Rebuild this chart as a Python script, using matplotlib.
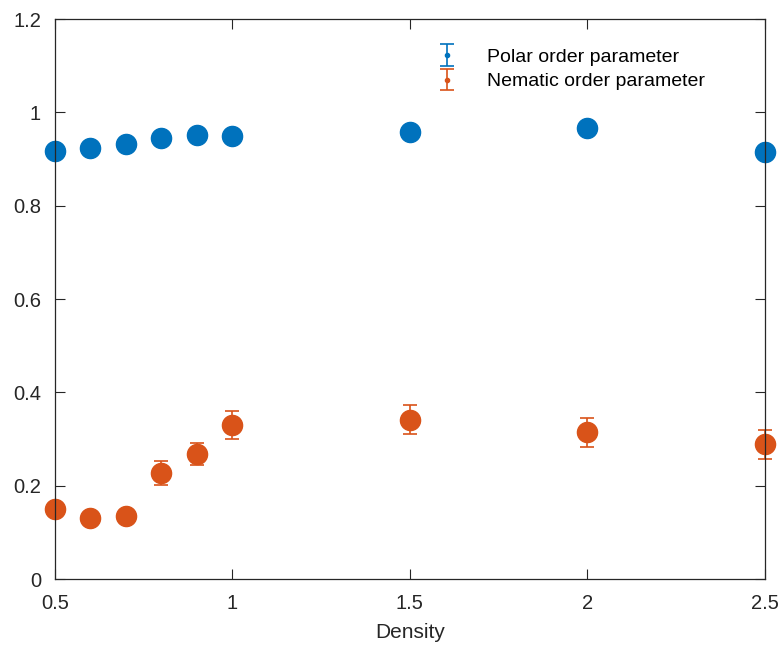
import matplotlib.pyplot as plt
from matplotlib.legend_handler import HandlerErrorbar
from matplotlib.container import ErrorbarContainer

plt.rcParams['font.family'] = ['Liberation Sans', 'DejaVu Sans']

density = [0.5, 0.6, 0.7, 0.8, 0.9, 1.0, 1.5, 2.0, 2.5]
polar = [0.917, 0.924, 0.932, 0.945, 0.951, 0.949, 0.958, 0.966, 0.915]
polar_err = [0.006, 0.005, 0.005, 0.006, 0.006, 0.006, 0.007, 0.006, 0.012]
nematic = [0.149, 0.131, 0.135, 0.227, 0.268, 0.330, 0.341, 0.314, 0.289]
nematic_err = [0.012, 0.008, 0.008, 0.026, 0.023, 0.031, 0.031, 0.031, 0.031]

blue = '#0072BD'
orange = '#D95319'

fig = plt.figure(figsize=(7.82, 6.47), dpi=100)
ax = fig.add_axes([0.0703, 0.1051, 0.9077, 0.8655])

handles = []
for y, err, c in [(polar, polar_err, blue), (nematic, nematic_err, orange)]:
    h = ax.errorbar(density, y, yerr=err, fmt='o', color=c, ms=14.5,
                    capsize=4.8, elinewidth=1.2, capthick=1.2)
    for art in h.lines[:1] + h.lines[1] + h.lines[2]:
        art.set_clip_on(False)
    handles.append(h)


def small_dot(legend_art, orig):
    # copy the usual props, then shrink the marker for the legend
    legend_art.update_from(orig)
    if hasattr(legend_art, 'get_marker') and legend_art.get_marker() == 'o':
        legend_art.set_markersize(3)


ax.legend(handles, ['Polar order parameter', 'Nematic order parameter'],
          loc='upper left', bbox_to_anchor=(0.514, 0.979), frameon=False, fontsize=14,
          handlelength=1.0, handletextpad=1.55, labelspacing=0.35,
          handler_map={ErrorbarContainer: HandlerErrorbar(yerr_size=0.55, update_func=small_dot)})

ax.set_xlim(0.5, 2.5)
ax.set_ylim(0, 1.2)
ax.set_xticks([0.5, 1, 1.5, 2, 2.5])
ax.set_xticklabels(['0.5', '1', '1.5', '2', '2.5'])
ax.set_yticks([0, 0.2, 0.4, 0.6, 0.8, 1.0, 1.2])
ax.set_yticklabels(['0', '0.2', '0.4', '0.6', '0.8', '1', '1.2'])
ax.tick_params(direction='in', length=7, width=0.8, top=True, right=True,
               labelsize=14.5, colors='#262626')
ax.tick_params(axis='x', pad=11)
ax.tick_params(axis='y', pad=10)
for s in ax.spines.values():
    s.set_color('#262626')
    s.set_linewidth(0.9)
ax.set_xlabel('Density', fontsize=15, color='#262626', labelpad=7)

fig.savefig('out.png', dpi=100)
